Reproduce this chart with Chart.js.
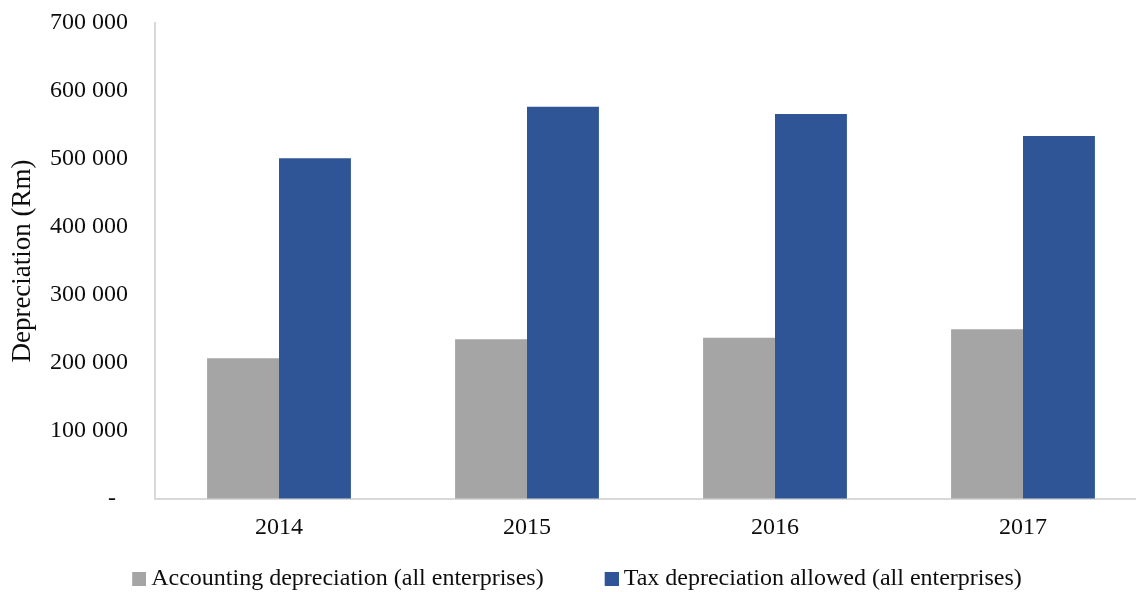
<!DOCTYPE html>
<html>
<head>
<meta charset="utf-8">
<script src="https://cdn.jsdelivr.net/npm/chart.js@4/dist/chart.umd.min.js"></script>
<style>
  html, body { margin: 0; padding: 0; background: #ffffff; overflow: hidden; }
  #wrap { width: 1136px; height: 592px; overflow: hidden; }
  canvas { display: block; margin-left: -39px; }
</style>
</head>
<body>
<div id="wrap"><canvas id="chart" width="1201" height="601"></canvas></div>
<script>
// Depreciation by year, in Rand millions
const years = ['2014', '2015', '2016', '2017'];
const accountingDepreciation = [207000, 235000, 237000, 249500];
const taxDepreciation = [501000, 577000, 566000, 534000];
const seriesNames = ['Accounting depreciation (all enterprises)', 'Tax depreciation allowed (all enterprises)'];
const seriesColors = ['#A5A5A5', '#2F5597'];
const yTicks = { min: 0, max: 700000, step: 100000 };
const yTitle = 'Depreciation (Rm)';

const FONT = 'Liberation Serif, Times New Roman, serif';
const TEXT = '#0d0d0d';
const SWATCH = 14;      // legend square size
const SWATCH_LEAD = 53; // space reserved in front of each legend square

// Legend marker: a square sitting at the right end of a wider transparent strip,
// so the items get extra room between them without padding the legend vertically.
function legendSwatch(color) {
  const c = document.createElement('canvas');
  c.width = SWATCH_LEAD + SWATCH;
  c.height = SWATCH;
  const g = c.getContext('2d');
  g.fillStyle = color;
  g.fillRect(SWATCH_LEAD, 0, SWATCH, SWATCH);
  return c;
}

function formatThousands(v) {
  if (v === 0) return '-  ';
  return String(v).replace(/\B(?=(\d{3})+(?!\d))/g, ' ');
}

new Chart(document.getElementById('chart'), {
  type: 'bar',
  data: {
    labels: years,
    datasets: [
      { label: seriesNames[0], data: accountingDepreciation, backgroundColor: seriesColors[0], pointStyle: legendSwatch(seriesColors[0]) },
      { label: seriesNames[1], data: taxDepreciation, backgroundColor: seriesColors[1], pointStyle: legendSwatch(seriesColors[1]) }
    ]
  },
  options: {
    responsive: false,
    animation: false,
    layout: { padding: { top: 23, right: 15, left: 0, bottom: 0 } },
    datasets: { bar: { categoryPercentage: 0.58, barPercentage: 1.0 } },
    plugins: {
      tooltip: { enabled: false },
      legend: {
        position: 'bottom',
        labels: {
          font: { family: FONT, size: 24 },
          color: TEXT,
          usePointStyle: true,
          pointStyleWidth: SWATCH_LEAD,
          boxHeight: SWATCH,
          padding: 15
        }
      }
    },
    scales: {
      x: {
        grid: { display: true, drawOnChartArea: false, drawTicks: false },
        border: { display: true, color: '#D9D9D9', width: 2 },
        ticks: { font: { family: FONT, size: 24 }, color: TEXT, padding: 14 },
        afterFit: (scale) => { scale.height = 53; }
      },
      y: {
        min: yTicks.min,
        max: yTicks.max,
        grid: { display: true, drawOnChartArea: false, drawTicks: false },
        border: { display: true, color: '#D9D9D9', width: 2 },
        ticks: {
          stepSize: yTicks.step,
          font: { family: FONT, size: 24 },
          color: TEXT,
          padding: 27,
          callback: (v) => formatThousands(v)
        },
        title: {
          display: true,
          text: yTitle,
          font: { family: FONT, size: 27 },
          color: TEXT,
          padding: { top: 46, bottom: 0 }
        },
        afterFit: (scale) => {
          scale.width = 194;
          scale.paddingTop = 0;
          scale.paddingBottom = 0;
        }
      }
    }
  }
});
</script>
</body>
</html>
